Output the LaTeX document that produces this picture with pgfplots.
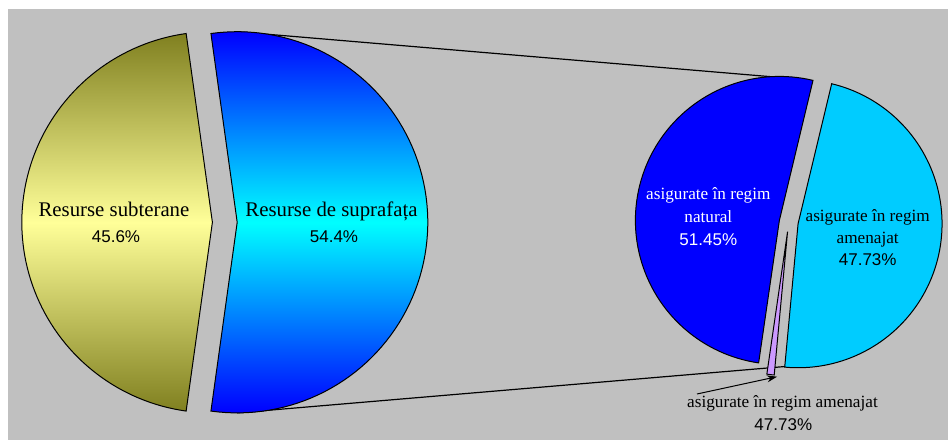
\documentclass[border=0pt]{standalone}
\usepackage{fontspec}
\setmainfont{Liberation Serif}
\newfontfamily\numfont{Liberation Sans}
\usepackage{pgfplots}
\usepackage{pgfplotstable}
\pgfplotsset{compat=1.18}
\usetikzlibrary{arrows.meta}
\definecolor{bggray}{RGB}{192,192,192}
\definecolor{olivetop}{RGB}{128,128,32}
\definecolor{lightyel}{RGB}{255,255,153}
\definecolor{natblue}{RGB}{0,0,255}
\definecolor{amcyan}{RGB}{0,204,255}
\definecolor{lavender}{RGB}{204,153,255}

\pgfplotstableread{
part value
subterane 45.6
suprafata 54.4
}\primarytable
\pgfplotstableread{
part value
natural 51.45
mic 0.82
amenajat 47.73
}\secondarytable

\pgfplotstablegetelem{0}{value}\of\primarytable \let\vSub\pgfplotsretval
\pgfplotstablegetelem{1}{value}\of\primarytable \let\vSup\pgfplotsretval
\pgfplotstablegetelem{0}{value}\of\secondarytable \let\vNat\pgfplotsretval
\pgfplotstablegetelem{1}{value}\of\secondarytable \let\vMic\pgfplotsretval
\pgfplotstablegetelem{2}{value}\of\secondarytable \let\vAme\pgfplotsretval
\pgfmathsetmacro\aSubA{180-\vSub*1.8}
\pgfmathsetmacro\aSubB{180+\vSub*1.8}
\pgfmathsetmacro\aSup{\vSup*1.8}
\pgfmathsetmacro\aNatA{76.5}
\pgfmathsetmacro\aNatB{\aNatA+\vNat*3.6}
\pgfmathsetmacro\aMicB{\aNatB+\vMic*3.6}
\pgfmathsetmacro\aAmeB{\aMicB+\vAme*3.6}

% #1 style, #2 cx, #3 cy, #4 r, #5 explode, #6 a1, #7 a2
\newcommand{\pieslice}[7]{%
  \path[#1] ({#2+#5*cos((#6+#7)/2)},{#3+#5*sin((#6+#7)/2)})
    -- plot[domain=#6:#7, samples=90, variable=\t]
       ({#2+#5*cos((#6+#7)/2)+#4*cos(\t)},{#3+#5*sin((#6+#7)/2)+#4*sin(\t)})
    -- cycle;}

\begin{document}%
\begin{tikzpicture}
\begin{axis}[width=474pt,height=220pt,scale only axis,
  xmin=0,xmax=948,ymin=0,ymax=440,hide axis,ticks=none,clip=false]
\fill[white] (axis cs:0,0) rectangle (axis cs:948,440);
\fill[bggray] (axis cs:8,0) rectangle (axis cs:948,431);
% series lines
\draw[black,line width=0.6pt] (axis cs:237.2,408.3) -- (axis cs:788.7,361.8);
\draw[black,line width=0.6pt] (axis cs:237.2,27.1) -- (axis cs:788.7,73.8);
% primary pie
\pieslice{draw=black,line width=0.5pt,top color=olivetop,bottom color=olivetop,middle color=lightyel}{224.8}{217.7}{190.6}{12.4}{\aSubA}{\aSubB}
\pieslice{draw=black,line width=0.5pt,top color=natblue,bottom color=natblue,middle color=cyan}{224.8}{217.7}{190.6}{12.4}{-\aSup}{\aSup}
% secondary pie
\pieslice{draw=black,line width=0.5pt,fill=natblue}{788.7}{217.8}{144}{9.5}{\aNatA}{\aNatB}
\pieslice{draw=black,line width=0.5pt,fill=lavender}{788.7}{217.8}{144}{9.5}{\aNatB}{\aMicB}
\pieslice{draw=black,line width=0.5pt,fill=amcyan}{788.7}{217.8}{144}{9.5}{\aMicB}{\aAmeB}
% labels
\node[anchor=base,font=\fontsize{10.4}{12}\selectfont] at (axis cs:114,223.5) {Resurse subterane};
\node[anchor=base,font=\numfont\fontsize{8.5}{10}\selectfont] at (axis cs:116,197.5) {45.6\%};
\node[anchor=base,font=\fontsize{10.4}{12}\selectfont] at (axis cs:331.5,223.5) {Resurse de suprafața};
\node[anchor=base,font=\numfont\fontsize{8.5}{10}\selectfont] at (axis cs:334,197.5) {54.4\%};
\node[anchor=base,white,font=\fontsize{8.6}{10}\selectfont] at (axis cs:708.3,240.5) {asigurate în regim};
\node[anchor=base,white,font=\fontsize{8.6}{10}\selectfont] at (axis cs:708.3,217.6) {natural};
\node[anchor=base,white,font=\numfont\fontsize{8.5}{10}\selectfont] at (axis cs:708.3,195) {51.45\%};
\node[anchor=base,font=\fontsize{8.6}{10}\selectfont] at (axis cs:867.7,219) {asigurate în regim};
\node[anchor=base,font=\fontsize{8.6}{10}\selectfont] at (axis cs:867.7,196.7) {amenajat};
\node[anchor=base,font=\numfont\fontsize{8.5}{10}\selectfont] at (axis cs:867.7,175) {47.73\%};
\node[anchor=base,font=\fontsize{8.6}{10}\selectfont] at (axis cs:782.5,32.7) {asigurate în regim amenajat};
\node[anchor=base,font=\numfont\fontsize{8.5}{10}\selectfont] at (axis cs:783.3,10) {47.73\%};
\draw[black,line width=0.5pt,-{Stealth[length=5pt,width=3.5pt]}] (axis cs:697,46) -- (axis cs:777,63.3);
\end{axis}
\pgfresetboundingbox
\path[use as bounding box] (current axis.south west) rectangle (current axis.north east);
\end{tikzpicture}%
\end{document}
